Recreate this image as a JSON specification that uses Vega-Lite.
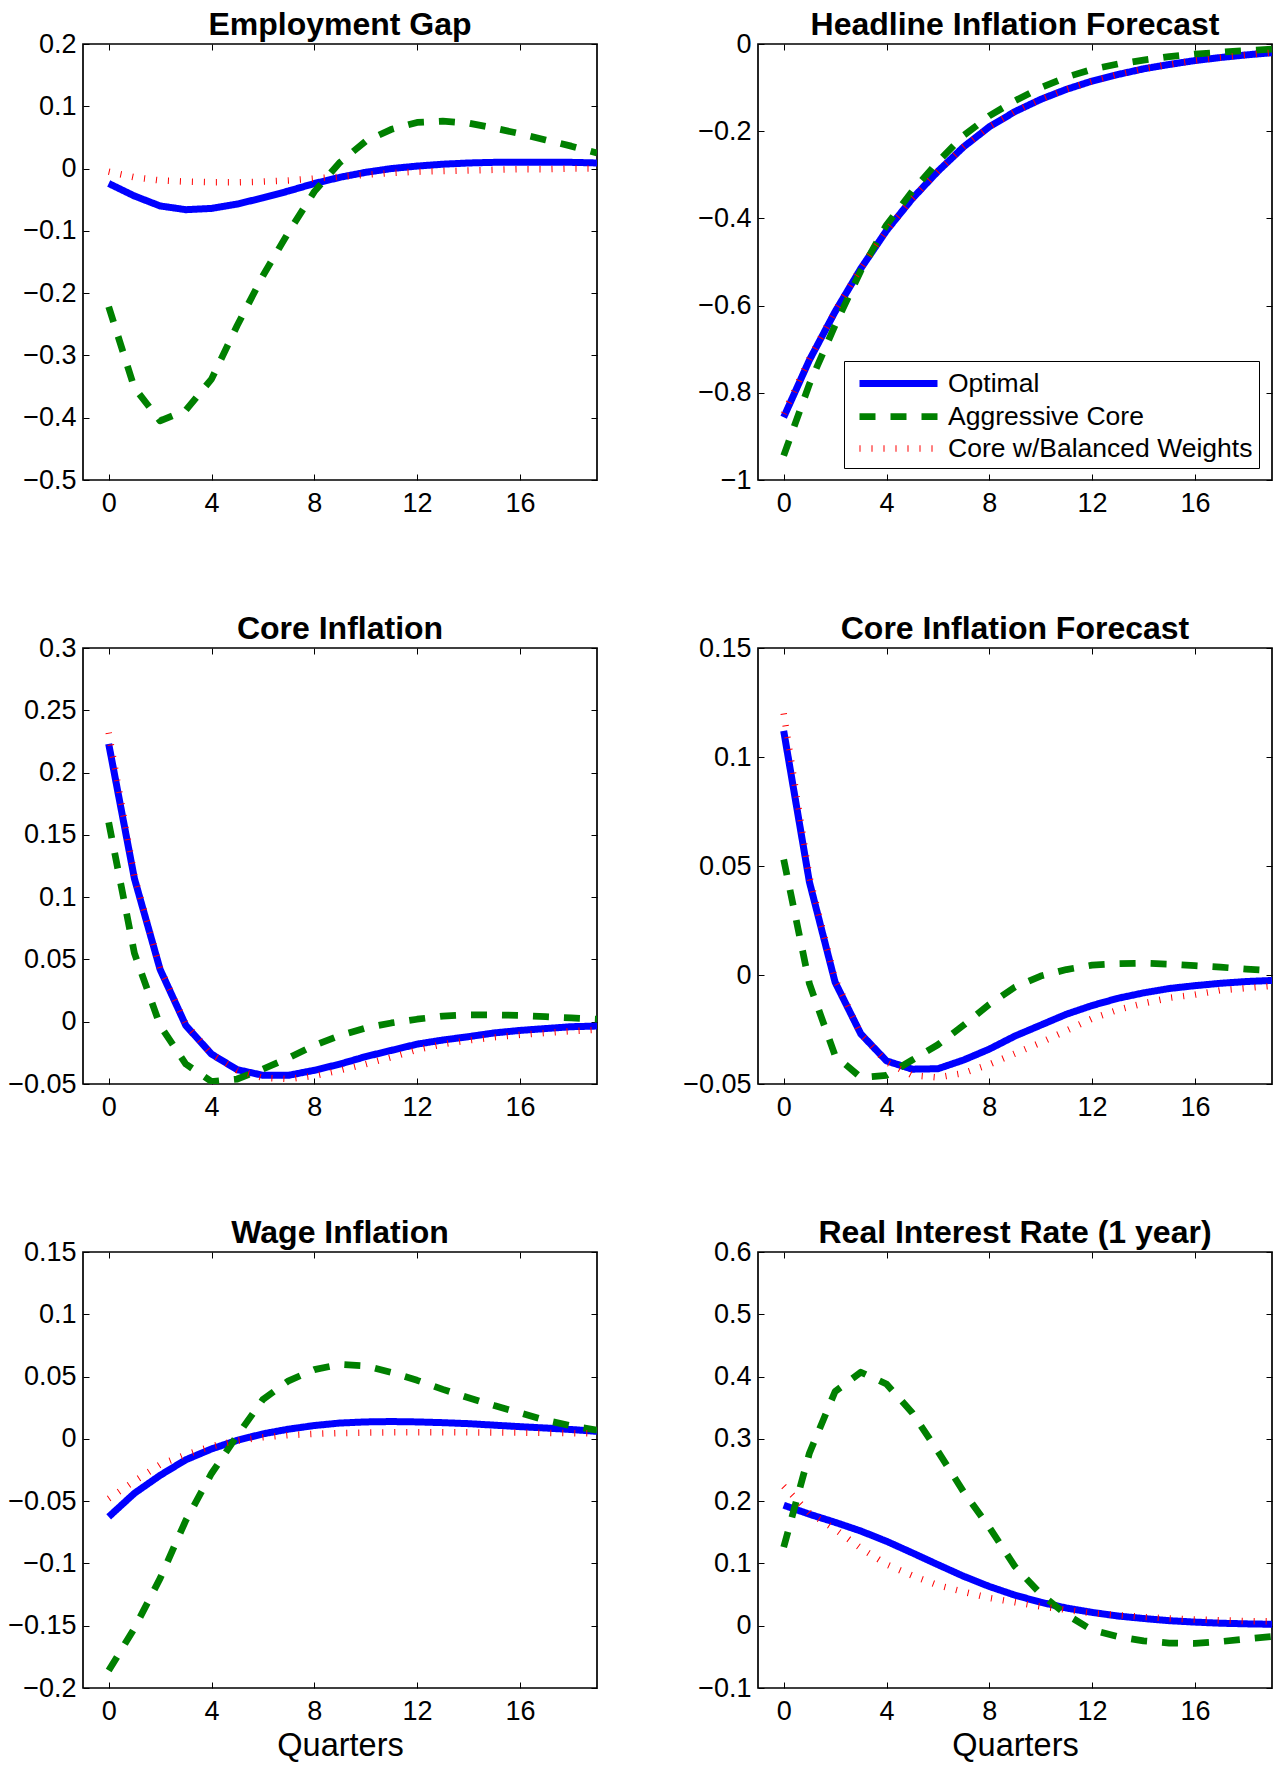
{
"$schema":"https://vega.github.io/schema/vega-lite/v6.json",
"autosize":{"type":"none"},
"padding":{"left":83,"top":44,"right":1192,"bottom":1721},
"background":"white",
"config":{
 "view":{"stroke":"black","strokeWidth":1.7},
 "axis":{"domain":false,"grid":false,"ticks":true,"tickColor":"black","tickWidth":1,"tickSize":-6,"labelFont":"Liberation Sans","labelFontSize":27,"labelColor":"black","titleFont":"Liberation Sans","titleFontSize":32.5,"titleFontWeight":"normal","titleColor":"black","labelFlush":false,"labelOverlap":false},
 "title":{"font":"Liberation Sans","fontSize":32,"fontWeight":"bold","color":"black","offset":-12,"baseline":"alphabetic"},
 "legend":{"orient":"none","legendX":761,"legendY":317,"title":null,"symbolType":"M-3,0H3","symbolSize":676,"padding":6,"symbolOffset":32,"labelOffset":33,"rowPadding":2,"strokeColor":"black","fillColor":"white","labelFontSize":26.5,"labelFont":"Liberation Sans","labelColor":"black","labelLimit":500,"cornerRadius":0}
},
"data":{"values":[
{"p":"EG","s":"O","q":0,"v":-0.024},{"p":"EG","s":"O","q":1,"v":-0.044},{"p":"EG","s":"O","q":2,"v":-0.06},{"p":"EG","s":"O","q":3,"v":-0.066},{"p":"EG","s":"O","q":4,"v":-0.064},{"p":"EG","s":"O","q":5,"v":-0.057},{"p":"EG","s":"O","q":6,"v":-0.047},{"p":"EG","s":"O","q":7,"v":-0.036},{"p":"EG","s":"O","q":8,"v":-0.024},{"p":"EG","s":"O","q":9,"v":-0.014},{"p":"EG","s":"O","q":10,"v":-0.006},{"p":"EG","s":"O","q":11,"v":0.0},{"p":"EG","s":"O","q":12,"v":0.004},{"p":"EG","s":"O","q":13,"v":0.007},{"p":"EG","s":"O","q":14,"v":0.009},{"p":"EG","s":"O","q":15,"v":0.01},{"p":"EG","s":"O","q":16,"v":0.01},{"p":"EG","s":"O","q":17,"v":0.01},{"p":"EG","s":"O","q":18,"v":0.01},{"p":"EG","s":"O","q":19,"v":0.009},
{"p":"EG","s":"A","q":0,"v":-0.222},{"p":"EG","s":"A","q":1,"v":-0.352},{"p":"EG","s":"A","q":2,"v":-0.405},{"p":"EG","s":"A","q":3,"v":-0.388},{"p":"EG","s":"A","q":4,"v":-0.338},{"p":"EG","s":"A","q":5,"v":-0.252},{"p":"EG","s":"A","q":6,"v":-0.172},{"p":"EG","s":"A","q":7,"v":-0.102},{"p":"EG","s":"A","q":8,"v":-0.037},{"p":"EG","s":"A","q":9,"v":0.01},{"p":"EG","s":"A","q":10,"v":0.044},{"p":"EG","s":"A","q":11,"v":0.063},{"p":"EG","s":"A","q":12,"v":0.074},{"p":"EG","s":"A","q":13,"v":0.076},{"p":"EG","s":"A","q":14,"v":0.073},{"p":"EG","s":"A","q":15,"v":0.065},{"p":"EG","s":"A","q":16,"v":0.056},{"p":"EG","s":"A","q":17,"v":0.046},{"p":"EG","s":"A","q":18,"v":0.036},{"p":"EG","s":"A","q":19,"v":0.025},
{"p":"EG","s":"B","q":0,"v":-0.005},{"p":"EG","s":"B","q":1,"v":-0.014},{"p":"EG","s":"B","q":2,"v":-0.019},{"p":"EG","s":"B","q":3,"v":-0.021},{"p":"EG","s":"B","q":4,"v":-0.022},{"p":"EG","s":"B","q":5,"v":-0.022},{"p":"EG","s":"B","q":6,"v":-0.021},{"p":"EG","s":"B","q":7,"v":-0.019},{"p":"EG","s":"B","q":8,"v":-0.016},{"p":"EG","s":"B","q":9,"v":-0.013},{"p":"EG","s":"B","q":10,"v":-0.01},{"p":"EG","s":"B","q":11,"v":-0.007},{"p":"EG","s":"B","q":12,"v":-0.005},{"p":"EG","s":"B","q":13,"v":-0.004},{"p":"EG","s":"B","q":14,"v":-0.003},{"p":"EG","s":"B","q":15,"v":-0.002},{"p":"EG","s":"B","q":16,"v":-0.001},{"p":"EG","s":"B","q":17,"v":-0.001},{"p":"EG","s":"B","q":18,"v":0.0},{"p":"EG","s":"B","q":19,"v":0.0},
{"p":"HF","s":"O","q":0,"v":-0.856},{"p":"HF","s":"O","q":1,"v":-0.725},{"p":"HF","s":"O","q":2,"v":-0.614},{"p":"HF","s":"O","q":3,"v":-0.515},{"p":"HF","s":"O","q":4,"v":-0.428},{"p":"HF","s":"O","q":5,"v":-0.355},{"p":"HF","s":"O","q":6,"v":-0.292},{"p":"HF","s":"O","q":7,"v":-0.236},{"p":"HF","s":"O","q":8,"v":-0.19},{"p":"HF","s":"O","q":9,"v":-0.155},{"p":"HF","s":"O","q":10,"v":-0.127},{"p":"HF","s":"O","q":11,"v":-0.104},{"p":"HF","s":"O","q":12,"v":-0.085},{"p":"HF","s":"O","q":13,"v":-0.07},{"p":"HF","s":"O","q":14,"v":-0.057},{"p":"HF","s":"O","q":15,"v":-0.047},{"p":"HF","s":"O","q":16,"v":-0.038},{"p":"HF","s":"O","q":17,"v":-0.031},{"p":"HF","s":"O","q":18,"v":-0.025},{"p":"HF","s":"O","q":19,"v":-0.02},
{"p":"HF","s":"A","q":0,"v":-0.944},{"p":"HF","s":"A","q":1,"v":-0.78},{"p":"HF","s":"A","q":2,"v":-0.645},{"p":"HF","s":"A","q":3,"v":-0.52},{"p":"HF","s":"A","q":4,"v":-0.415},{"p":"HF","s":"A","q":5,"v":-0.338},{"p":"HF","s":"A","q":6,"v":-0.27},{"p":"HF","s":"A","q":7,"v":-0.21},{"p":"HF","s":"A","q":8,"v":-0.165},{"p":"HF","s":"A","q":9,"v":-0.13},{"p":"HF","s":"A","q":10,"v":-0.1},{"p":"HF","s":"A","q":11,"v":-0.076},{"p":"HF","s":"A","q":12,"v":-0.058},{"p":"HF","s":"A","q":13,"v":-0.046},{"p":"HF","s":"A","q":14,"v":-0.037},{"p":"HF","s":"A","q":15,"v":-0.029},{"p":"HF","s":"A","q":16,"v":-0.023},{"p":"HF","s":"A","q":17,"v":-0.019},{"p":"HF","s":"A","q":18,"v":-0.015},{"p":"HF","s":"A","q":19,"v":-0.012},
{"p":"HF","s":"B","q":0,"v":-0.848},{"p":"HF","s":"B","q":1,"v":-0.722},{"p":"HF","s":"B","q":2,"v":-0.612},{"p":"HF","s":"B","q":3,"v":-0.514},{"p":"HF","s":"B","q":4,"v":-0.428},{"p":"HF","s":"B","q":5,"v":-0.355},{"p":"HF","s":"B","q":6,"v":-0.292},{"p":"HF","s":"B","q":7,"v":-0.236},{"p":"HF","s":"B","q":8,"v":-0.19},{"p":"HF","s":"B","q":9,"v":-0.155},{"p":"HF","s":"B","q":10,"v":-0.127},{"p":"HF","s":"B","q":11,"v":-0.104},{"p":"HF","s":"B","q":12,"v":-0.085},{"p":"HF","s":"B","q":13,"v":-0.07},{"p":"HF","s":"B","q":14,"v":-0.057},{"p":"HF","s":"B","q":15,"v":-0.047},{"p":"HF","s":"B","q":16,"v":-0.038},{"p":"HF","s":"B","q":17,"v":-0.031},{"p":"HF","s":"B","q":18,"v":-0.025},{"p":"HF","s":"B","q":19,"v":-0.02},
{"p":"CI","s":"O","q":0,"v":0.223},{"p":"CI","s":"O","q":1,"v":0.115},{"p":"CI","s":"O","q":2,"v":0.042},{"p":"CI","s":"O","q":3,"v":-0.003},{"p":"CI","s":"O","q":4,"v":-0.026},{"p":"CI","s":"O","q":5,"v":-0.0385},{"p":"CI","s":"O","q":6,"v":-0.043},{"p":"CI","s":"O","q":7,"v":-0.043},{"p":"CI","s":"O","q":8,"v":-0.039},{"p":"CI","s":"O","q":9,"v":-0.034},{"p":"CI","s":"O","q":10,"v":-0.028},{"p":"CI","s":"O","q":11,"v":-0.023},{"p":"CI","s":"O","q":12,"v":-0.018},{"p":"CI","s":"O","q":13,"v":-0.0147},{"p":"CI","s":"O","q":14,"v":-0.012},{"p":"CI","s":"O","q":15,"v":-0.009},{"p":"CI","s":"O","q":16,"v":-0.007},{"p":"CI","s":"O","q":17,"v":-0.0055},{"p":"CI","s":"O","q":18,"v":-0.004},{"p":"CI","s":"O","q":19,"v":-0.0035},
{"p":"CI","s":"A","q":0,"v":0.16},{"p":"CI","s":"A","q":1,"v":0.055},{"p":"CI","s":"A","q":2,"v":-0.003},{"p":"CI","s":"A","q":3,"v":-0.034},{"p":"CI","s":"A","q":4,"v":-0.048},{"p":"CI","s":"A","q":5,"v":-0.046},{"p":"CI","s":"A","q":6,"v":-0.038},{"p":"CI","s":"A","q":7,"v":-0.029},{"p":"CI","s":"A","q":8,"v":-0.019},{"p":"CI","s":"A","q":9,"v":-0.011},{"p":"CI","s":"A","q":10,"v":-0.005},{"p":"CI","s":"A","q":11,"v":-0.001},{"p":"CI","s":"A","q":12,"v":0.002},{"p":"CI","s":"A","q":13,"v":0.0045},{"p":"CI","s":"A","q":14,"v":0.0055},{"p":"CI","s":"A","q":15,"v":0.0055},{"p":"CI","s":"A","q":16,"v":0.005},{"p":"CI","s":"A","q":17,"v":0.004},{"p":"CI","s":"A","q":18,"v":0.003},{"p":"CI","s":"A","q":19,"v":0.002},
{"p":"CI","s":"B","q":0,"v":0.232},{"p":"CI","s":"B","q":1,"v":0.117},{"p":"CI","s":"B","q":2,"v":0.043},{"p":"CI","s":"B","q":3,"v":-0.002},{"p":"CI","s":"B","q":4,"v":-0.026},{"p":"CI","s":"B","q":5,"v":-0.039},{"p":"CI","s":"B","q":6,"v":-0.045},{"p":"CI","s":"B","q":7,"v":-0.046},{"p":"CI","s":"B","q":8,"v":-0.0435},{"p":"CI","s":"B","q":9,"v":-0.039},{"p":"CI","s":"B","q":10,"v":-0.034},{"p":"CI","s":"B","q":11,"v":-0.0285},{"p":"CI","s":"B","q":12,"v":-0.0225},{"p":"CI","s":"B","q":13,"v":-0.018},{"p":"CI","s":"B","q":14,"v":-0.015},{"p":"CI","s":"B","q":15,"v":-0.0125},{"p":"CI","s":"B","q":16,"v":-0.0105},{"p":"CI","s":"B","q":17,"v":-0.009},{"p":"CI","s":"B","q":18,"v":-0.0075},{"p":"CI","s":"B","q":19,"v":-0.0065},
{"p":"CF","s":"O","q":0,"v":0.112},{"p":"CF","s":"O","q":1,"v":0.0427},{"p":"CF","s":"O","q":2,"v":-0.0033},{"p":"CF","s":"O","q":3,"v":-0.027},{"p":"CF","s":"O","q":4,"v":-0.0394},{"p":"CF","s":"O","q":5,"v":-0.0432},{"p":"CF","s":"O","q":6,"v":-0.043},{"p":"CF","s":"O","q":7,"v":-0.039},{"p":"CF","s":"O","q":8,"v":-0.034},{"p":"CF","s":"O","q":9,"v":-0.028},{"p":"CF","s":"O","q":10,"v":-0.023},{"p":"CF","s":"O","q":11,"v":-0.018},{"p":"CF","s":"O","q":12,"v":-0.014},{"p":"CF","s":"O","q":13,"v":-0.0107},{"p":"CF","s":"O","q":14,"v":-0.0082},{"p":"CF","s":"O","q":15,"v":-0.0062},{"p":"CF","s":"O","q":16,"v":-0.0049},{"p":"CF","s":"O","q":17,"v":-0.0038},{"p":"CF","s":"O","q":18,"v":-0.003},{"p":"CF","s":"O","q":19,"v":-0.0025},
{"p":"CF","s":"A","q":0,"v":0.053},{"p":"CF","s":"A","q":1,"v":-0.004},{"p":"CF","s":"A","q":2,"v":-0.037},{"p":"CF","s":"A","q":3,"v":-0.047},{"p":"CF","s":"A","q":4,"v":-0.046},{"p":"CF","s":"A","q":5,"v":-0.039},{"p":"CF","s":"A","q":6,"v":-0.032},{"p":"CF","s":"A","q":7,"v":-0.023},{"p":"CF","s":"A","q":8,"v":-0.0135},{"p":"CF","s":"A","q":9,"v":-0.0055},{"p":"CF","s":"A","q":10,"v":-0.0005},{"p":"CF","s":"A","q":11,"v":0.0025},{"p":"CF","s":"A","q":12,"v":0.0045},{"p":"CF","s":"A","q":13,"v":0.0052},{"p":"CF","s":"A","q":14,"v":0.0054},{"p":"CF","s":"A","q":15,"v":0.005},{"p":"CF","s":"A","q":16,"v":0.0043},{"p":"CF","s":"A","q":17,"v":0.0036},{"p":"CF","s":"A","q":18,"v":0.0027},{"p":"CF","s":"A","q":19,"v":0.002},
{"p":"CF","s":"B","q":0,"v":0.12},{"p":"CF","s":"B","q":1,"v":0.045},{"p":"CF","s":"B","q":2,"v":-0.002},{"p":"CF","s":"B","q":3,"v":-0.027},{"p":"CF","s":"B","q":4,"v":-0.04},{"p":"CF","s":"B","q":5,"v":-0.046},{"p":"CF","s":"B","q":6,"v":-0.047},{"p":"CF","s":"B","q":7,"v":-0.045},{"p":"CF","s":"B","q":8,"v":-0.041},{"p":"CF","s":"B","q":9,"v":-0.036},{"p":"CF","s":"B","q":10,"v":-0.031},{"p":"CF","s":"B","q":11,"v":-0.0255},{"p":"CF","s":"B","q":12,"v":-0.02},{"p":"CF","s":"B","q":13,"v":-0.016},{"p":"CF","s":"B","q":14,"v":-0.013},{"p":"CF","s":"B","q":15,"v":-0.0105},{"p":"CF","s":"B","q":16,"v":-0.009},{"p":"CF","s":"B","q":17,"v":-0.007},{"p":"CF","s":"B","q":18,"v":-0.006},{"p":"CF","s":"B","q":19,"v":-0.005},
{"p":"WI","s":"O","q":0,"v":-0.0626},{"p":"WI","s":"O","q":1,"v":-0.0437},{"p":"WI","s":"O","q":2,"v":-0.0293},{"p":"WI","s":"O","q":3,"v":-0.0168},{"p":"WI","s":"O","q":4,"v":-0.0081},{"p":"WI","s":"O","q":5,"v":-0.0012},{"p":"WI","s":"O","q":6,"v":0.004},{"p":"WI","s":"O","q":7,"v":0.0078},{"p":"WI","s":"O","q":8,"v":0.0107},{"p":"WI","s":"O","q":9,"v":0.0127},{"p":"WI","s":"O","q":10,"v":0.0136},{"p":"WI","s":"O","q":11,"v":0.0139},{"p":"WI","s":"O","q":12,"v":0.0136},{"p":"WI","s":"O","q":13,"v":0.013},{"p":"WI","s":"O","q":14,"v":0.0122},{"p":"WI","s":"O","q":15,"v":0.011},{"p":"WI","s":"O","q":16,"v":0.0098},{"p":"WI","s":"O","q":17,"v":0.0087},{"p":"WI","s":"O","q":18,"v":0.0075},{"p":"WI","s":"O","q":19,"v":0.006},
{"p":"WI","s":"A","q":0,"v":-0.186},{"p":"WI","s":"A","q":1,"v":-0.152},{"p":"WI","s":"A","q":2,"v":-0.112},{"p":"WI","s":"A","q":3,"v":-0.0655},{"p":"WI","s":"A","q":4,"v":-0.0278},{"p":"WI","s":"A","q":5,"v":0.0026},{"p":"WI","s":"A","q":6,"v":0.0316},{"p":"WI","s":"A","q":7,"v":0.0466},{"p":"WI","s":"A","q":8,"v":0.0556},{"p":"WI","s":"A","q":9,"v":0.0597},{"p":"WI","s":"A","q":10,"v":0.0585},{"p":"WI","s":"A","q":11,"v":0.0533},{"p":"WI","s":"A","q":12,"v":0.047},{"p":"WI","s":"A","q":13,"v":0.0397},{"p":"WI","s":"A","q":14,"v":0.033},{"p":"WI","s":"A","q":15,"v":0.0267},{"p":"WI","s":"A","q":16,"v":0.0209},{"p":"WI","s":"A","q":17,"v":0.015},{"p":"WI","s":"A","q":18,"v":0.0104},{"p":"WI","s":"A","q":19,"v":0.007},
{"p":"WI","s":"B","q":0,"v":-0.048},{"p":"WI","s":"B","q":1,"v":-0.034},{"p":"WI","s":"B","q":2,"v":-0.0206},{"p":"WI","s":"B","q":3,"v":-0.0127},{"p":"WI","s":"B","q":4,"v":-0.006},{"p":"WI","s":"B","q":5,"v":-0.0014},{"p":"WI","s":"B","q":6,"v":0.0012},{"p":"WI","s":"B","q":7,"v":0.003},{"p":"WI","s":"B","q":8,"v":0.004},{"p":"WI","s":"B","q":9,"v":0.0047},{"p":"WI","s":"B","q":10,"v":0.005},{"p":"WI","s":"B","q":11,"v":0.0052},{"p":"WI","s":"B","q":12,"v":0.0053},{"p":"WI","s":"B","q":13,"v":0.0053},{"p":"WI","s":"B","q":14,"v":0.0052},{"p":"WI","s":"B","q":15,"v":0.0051},{"p":"WI","s":"B","q":16,"v":0.005},{"p":"WI","s":"B","q":17,"v":0.0048},{"p":"WI","s":"B","q":18,"v":0.0046},{"p":"WI","s":"B","q":19,"v":0.0044},
{"p":"RR","s":"O","q":0,"v":0.1935},{"p":"RR","s":"O","q":1,"v":0.179},{"p":"RR","s":"O","q":2,"v":0.166},{"p":"RR","s":"O","q":3,"v":0.152},{"p":"RR","s":"O","q":4,"v":0.1356},{"p":"RR","s":"O","q":5,"v":0.117},{"p":"RR","s":"O","q":6,"v":0.098},{"p":"RR","s":"O","q":7,"v":0.0794},{"p":"RR","s":"O","q":8,"v":0.063},{"p":"RR","s":"O","q":9,"v":0.049},{"p":"RR","s":"O","q":10,"v":0.0377},{"p":"RR","s":"O","q":11,"v":0.0284},{"p":"RR","s":"O","q":12,"v":0.0214},{"p":"RR","s":"O","q":13,"v":0.0156},{"p":"RR","s":"O","q":14,"v":0.0116},{"p":"RR","s":"O","q":15,"v":0.0081},{"p":"RR","s":"O","q":16,"v":0.0058},{"p":"RR","s":"O","q":17,"v":0.004},{"p":"RR","s":"O","q":18,"v":0.003},{"p":"RR","s":"O","q":19,"v":0.0023},
{"p":"RR","s":"A","q":0,"v":0.126},{"p":"RR","s":"A","q":1,"v":0.277},{"p":"RR","s":"A","q":2,"v":0.376},{"p":"RR","s":"A","q":3,"v":0.407},{"p":"RR","s":"A","q":4,"v":0.388},{"p":"RR","s":"A","q":5,"v":0.342},{"p":"RR","s":"A","q":6,"v":0.28},{"p":"RR","s":"A","q":7,"v":0.215},{"p":"RR","s":"A","q":8,"v":0.158},{"p":"RR","s":"A","q":9,"v":0.095},{"p":"RR","s":"A","q":10,"v":0.051},{"p":"RR","s":"A","q":11,"v":0.018},{"p":"RR","s":"A","q":12,"v":-0.007},{"p":"RR","s":"A","q":13,"v":-0.0174},{"p":"RR","s":"A","q":14,"v":-0.0243},{"p":"RR","s":"A","q":15,"v":-0.0278},{"p":"RR","s":"A","q":16,"v":-0.0284},{"p":"RR","s":"A","q":17,"v":-0.0255},{"p":"RR","s":"A","q":18,"v":-0.0214},{"p":"RR","s":"A","q":19,"v":-0.0174},
{"p":"RR","s":"B","q":0,"v":0.224},{"p":"RR","s":"B","q":1,"v":0.181},{"p":"RR","s":"B","q":2,"v":0.155},{"p":"RR","s":"B","q":3,"v":0.1245},{"p":"RR","s":"B","q":4,"v":0.0985},{"p":"RR","s":"B","q":5,"v":0.0805},{"p":"RR","s":"B","q":6,"v":0.065},{"p":"RR","s":"B","q":7,"v":0.0545},{"p":"RR","s":"B","q":8,"v":0.0446},{"p":"RR","s":"B","q":9,"v":0.0377},{"p":"RR","s":"B","q":10,"v":0.031},{"p":"RR","s":"B","q":11,"v":0.0255},{"p":"RR","s":"B","q":12,"v":0.02},{"p":"RR","s":"B","q":13,"v":0.017},{"p":"RR","s":"B","q":14,"v":0.014},{"p":"RR","s":"B","q":15,"v":0.0116},{"p":"RR","s":"B","q":16,"v":0.01},{"p":"RR","s":"B","q":17,"v":0.0087},{"p":"RR","s":"B","q":18,"v":0.0075},{"p":"RR","s":"B","q":19,"v":0.007}
]},
"columns":2,
"spacing":{"row":168,"column":161},
"bounds":"flush",
"concat":[
{"width":514,"height":436,"title":"Employment Gap","transform":[{"filter":"datum.p==='EG'"}],
 "layer":[
  {"mark":{"type":"line","clip":true,"strokeCap":"butt","strokeJoin":"round"},
   "encoding":{
    "x":{"field":"q","type":"quantitative","scale":{"domain":[-1,19],"nice":false,"zero":false},"axis":{"orient":"bottom","values":[0,4,8,12,16],"title":null,"labelPadding":16}},
    "y":{"field":"v","type":"quantitative","scale":{"domain":[-0.5,0.2],"nice":false,"zero":false},"axis":{"orient":"left","values":[-0.5,-0.4,-0.3,-0.2,-0.1,0,0.1,0.2],"format":".2~f","title":null,"labelPadding":13}},
    "color":{"field":"s","type":"nominal","scale":{"domain":["O","A","B"],"range":["#0000ff","#008000","#ff0000"]},"legend":{"labelExpr":"datum.label==='O'?'Optimal':datum.label==='A'?'Aggressive Core':'Core w/Balanced Weights'"}},
    "strokeDash":{"field":"s","type":"nominal","scale":{"domain":["O","A","B"],"range":[[1,0],[16,15],[1,11]]}},
    "strokeWidth":{"field":"s","type":"nominal","scale":{"domain":["O","A","B"],"range":[7,6.5,7.5]}}
   }},
  {"mark":{"type":"line","opacity":0},
   "encoding":{
    "x":{"field":"q","type":"quantitative","axis":{"orient":"top","values":[0,4,8,12,16],"labels":false,"title":null}},
    "y":{"field":"v","type":"quantitative","axis":{"orient":"right","values":[-0.5,-0.4,-0.3,-0.2,-0.1,0,0.1,0.2],"labels":false,"title":null}}
   }}
 ],
 "resolve":{"axis":{"x":"independent","y":"independent"}}},
{"width":514,"height":436,"title":"Headline Inflation Forecast","transform":[{"filter":"datum.p==='HF'"}],
 "layer":[
  {"mark":{"type":"line","clip":true,"strokeCap":"butt","strokeJoin":"round"},
   "encoding":{
    "x":{"field":"q","type":"quantitative","scale":{"domain":[-1,19],"nice":false,"zero":false},"axis":{"orient":"bottom","values":[0,4,8,12,16],"title":null,"labelPadding":16}},
    "y":{"field":"v","type":"quantitative","scale":{"domain":[-1,0],"nice":false,"zero":false},"axis":{"orient":"left","values":[-1,-0.8,-0.6,-0.4,-0.2,0],"format":".2~f","title":null,"labelPadding":13}},
    "color":{"field":"s","type":"nominal","scale":{"domain":["O","A","B"],"range":["#0000ff","#008000","#ff0000"]},"legend":{"labelExpr":"datum.label==='O'?'Optimal':datum.label==='A'?'Aggressive Core':'Core w/Balanced Weights'"}},
    "strokeDash":{"field":"s","type":"nominal","scale":{"domain":["O","A","B"],"range":[[1,0],[16,15],[1,11]]}},
    "strokeWidth":{"field":"s","type":"nominal","scale":{"domain":["O","A","B"],"range":[7,6.5,7.5]}}
   }},
  {"mark":{"type":"line","opacity":0},
   "encoding":{
    "x":{"field":"q","type":"quantitative","axis":{"orient":"top","values":[0,4,8,12,16],"labels":false,"title":null}},
    "y":{"field":"v","type":"quantitative","axis":{"orient":"right","values":[-1,-0.8,-0.6,-0.4,-0.2,0],"labels":false,"title":null}}
   }}
 ],
 "resolve":{"axis":{"x":"independent","y":"independent"}}},
{"width":514,"height":436,"title":"Core Inflation","transform":[{"filter":"datum.p==='CI'"}],
 "layer":[
  {"mark":{"type":"line","clip":true,"strokeCap":"butt","strokeJoin":"round"},
   "encoding":{
    "x":{"field":"q","type":"quantitative","scale":{"domain":[-1,19],"nice":false,"zero":false},"axis":{"orient":"bottom","values":[0,4,8,12,16],"title":null,"labelPadding":16}},
    "y":{"field":"v","type":"quantitative","scale":{"domain":[-0.05,0.3],"nice":false,"zero":false},"axis":{"orient":"left","values":[-0.05,0,0.05,0.1,0.15,0.2,0.25,0.3],"format":".2~f","title":null,"labelPadding":13}},
    "color":{"field":"s","type":"nominal","scale":{"domain":["O","A","B"],"range":["#0000ff","#008000","#ff0000"]},"legend":{"labelExpr":"datum.label==='O'?'Optimal':datum.label==='A'?'Aggressive Core':'Core w/Balanced Weights'"}},
    "strokeDash":{"field":"s","type":"nominal","scale":{"domain":["O","A","B"],"range":[[1,0],[16,15],[1,11]]}},
    "strokeWidth":{"field":"s","type":"nominal","scale":{"domain":["O","A","B"],"range":[7,6.5,7.5]}}
   }},
  {"mark":{"type":"line","opacity":0},
   "encoding":{
    "x":{"field":"q","type":"quantitative","axis":{"orient":"top","values":[0,4,8,12,16],"labels":false,"title":null}},
    "y":{"field":"v","type":"quantitative","axis":{"orient":"right","values":[-0.05,0,0.05,0.1,0.15,0.2,0.25,0.3],"labels":false,"title":null}}
   }}
 ],
 "resolve":{"axis":{"x":"independent","y":"independent"}}},
{"width":514,"height":436,"title":"Core Inflation Forecast","transform":[{"filter":"datum.p==='CF'"}],
 "layer":[
  {"mark":{"type":"line","clip":true,"strokeCap":"butt","strokeJoin":"round"},
   "encoding":{
    "x":{"field":"q","type":"quantitative","scale":{"domain":[-1,19],"nice":false,"zero":false},"axis":{"orient":"bottom","values":[0,4,8,12,16],"title":null,"labelPadding":16}},
    "y":{"field":"v","type":"quantitative","scale":{"domain":[-0.05,0.15],"nice":false,"zero":false},"axis":{"orient":"left","values":[-0.05,0,0.05,0.1,0.15],"format":".2~f","title":null,"labelPadding":13}},
    "color":{"field":"s","type":"nominal","scale":{"domain":["O","A","B"],"range":["#0000ff","#008000","#ff0000"]},"legend":{"labelExpr":"datum.label==='O'?'Optimal':datum.label==='A'?'Aggressive Core':'Core w/Balanced Weights'"}},
    "strokeDash":{"field":"s","type":"nominal","scale":{"domain":["O","A","B"],"range":[[1,0],[16,15],[1,11]]}},
    "strokeWidth":{"field":"s","type":"nominal","scale":{"domain":["O","A","B"],"range":[7,6.5,7.5]}}
   }},
  {"mark":{"type":"line","opacity":0},
   "encoding":{
    "x":{"field":"q","type":"quantitative","axis":{"orient":"top","values":[0,4,8,12,16],"labels":false,"title":null}},
    "y":{"field":"v","type":"quantitative","axis":{"orient":"right","values":[-0.05,0,0.05,0.1,0.15],"labels":false,"title":null}}
   }}
 ],
 "resolve":{"axis":{"x":"independent","y":"independent"}}},
{"width":514,"height":436,"title":"Wage Inflation","transform":[{"filter":"datum.p==='WI'"}],
 "layer":[
  {"mark":{"type":"line","clip":true,"strokeCap":"butt","strokeJoin":"round"},
   "encoding":{
    "x":{"field":"q","type":"quantitative","scale":{"domain":[-1,19],"nice":false,"zero":false},"axis":{"orient":"bottom","values":[0,4,8,12,16],"title":"Quarters","titleBaseline":"alphabetic","titleY":67,"labelPadding":16}},
    "y":{"field":"v","type":"quantitative","scale":{"domain":[-0.2,0.15],"nice":false,"zero":false},"axis":{"orient":"left","values":[-0.2,-0.15,-0.1,-0.05,0,0.05,0.1,0.15],"format":".2~f","title":null,"labelPadding":13}},
    "color":{"field":"s","type":"nominal","scale":{"domain":["O","A","B"],"range":["#0000ff","#008000","#ff0000"]},"legend":{"labelExpr":"datum.label==='O'?'Optimal':datum.label==='A'?'Aggressive Core':'Core w/Balanced Weights'"}},
    "strokeDash":{"field":"s","type":"nominal","scale":{"domain":["O","A","B"],"range":[[1,0],[16,15],[1,11]]}},
    "strokeWidth":{"field":"s","type":"nominal","scale":{"domain":["O","A","B"],"range":[7,6.5,7.5]}}
   }},
  {"mark":{"type":"line","opacity":0},
   "encoding":{
    "x":{"field":"q","type":"quantitative","axis":{"orient":"top","values":[0,4,8,12,16],"labels":false,"title":null}},
    "y":{"field":"v","type":"quantitative","axis":{"orient":"right","values":[-0.2,-0.15,-0.1,-0.05,0,0.05,0.1,0.15],"labels":false,"title":null}}
   }}
 ],
 "resolve":{"axis":{"x":"independent","y":"independent"}}},
{"width":514,"height":436,"title":"Real Interest Rate (1 year)","transform":[{"filter":"datum.p==='RR'"}],
 "layer":[
  {"mark":{"type":"line","clip":true,"strokeCap":"butt","strokeJoin":"round"},
   "encoding":{
    "x":{"field":"q","type":"quantitative","scale":{"domain":[-1,19],"nice":false,"zero":false},"axis":{"orient":"bottom","values":[0,4,8,12,16],"title":"Quarters","titleBaseline":"alphabetic","titleY":67,"labelPadding":16}},
    "y":{"field":"v","type":"quantitative","scale":{"domain":[-0.1,0.6],"nice":false,"zero":false},"axis":{"orient":"left","values":[-0.1,0,0.1,0.2,0.3,0.4,0.5,0.6],"format":".2~f","title":null,"labelPadding":13}},
    "color":{"field":"s","type":"nominal","scale":{"domain":["O","A","B"],"range":["#0000ff","#008000","#ff0000"]},"legend":{"labelExpr":"datum.label==='O'?'Optimal':datum.label==='A'?'Aggressive Core':'Core w/Balanced Weights'"}},
    "strokeDash":{"field":"s","type":"nominal","scale":{"domain":["O","A","B"],"range":[[1,0],[16,15],[1,11]]}},
    "strokeWidth":{"field":"s","type":"nominal","scale":{"domain":["O","A","B"],"range":[7,6.5,7.5]}}
   }},
  {"mark":{"type":"line","opacity":0},
   "encoding":{
    "x":{"field":"q","type":"quantitative","axis":{"orient":"top","values":[0,4,8,12,16],"labels":false,"title":null}},
    "y":{"field":"v","type":"quantitative","axis":{"orient":"right","values":[-0.1,0,0.1,0.2,0.3,0.4,0.5,0.6],"labels":false,"title":null}}
   }}
 ],
 "resolve":{"axis":{"x":"independent","y":"independent"}}}
]
}
